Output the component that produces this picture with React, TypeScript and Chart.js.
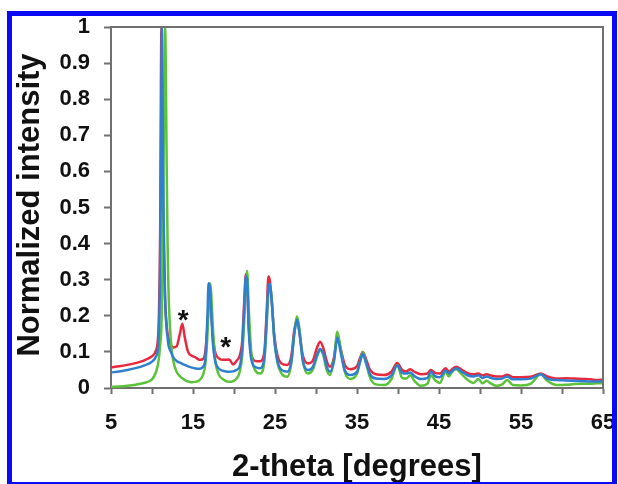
import React, { useEffect, useRef } from "react";
import { Chart, registerables } from "chart.js";

Chart.register(...registerables);

// 2-theta grid (degrees)
const twoTheta = [
  5, 6, 7, 8, 9, 10, 10.5, 10.8, 11.0, 11.15, 11.2, 11.35, 11.4, 11.6, 11.8, 11.9, 12.0, 12.3, 12.6, 13.0,
  13.4, 13.7, 14.0, 14.4, 14.8, 15.3, 15.8, 16.2, 16.5, 16.75, 16.9, 17.05, 17.2, 17.4, 17.7, 18.1, 18.6, 19.0, 19.4, 19.9,
  20.3, 20.7, 21.0, 21.25, 21.45, 21.6, 21.8, 22.1, 22.6, 23.2, 23.7, 24.0, 24.2, 24.35, 24.6, 24.9, 25.3, 25.8, 26.5, 27.0,
  27.35, 27.7, 28.0, 28.4, 29.0, 29.6, 30.1, 30.5, 30.9, 31.3, 31.7, 32.2, 32.6, 33.0, 33.5, 34.2, 35.0, 35.4, 35.7, 36.1,
  36.6, 37.3, 38.3, 39.2, 39.9, 40.5, 41.0, 41.5, 42.0, 42.8, 43.6, 44.0, 44.5, 45.1, 45.8, 46.2, 46.6, 47.1, 47.7, 48.4,
  49.2, 49.8, 50.3, 50.8, 51.3, 52.0, 52.7, 53.3, 54.0, 55.0, 56.2, 57.4, 58.2, 59.4, 60.5, 61.5, 62.5, 63.5, 64.3, 65,
];

const redIntensity = [
  0.057, 0.06, 0.064, 0.069, 0.076, 0.088, 0.105, 0.17, 0.45, 1.0, 0.9, 0.5, 0.42, 0.24, 0.17, 0.15, 0.14, 0.12, 0.112, 0.115,
  0.15, 0.178, 0.14, 0.1, 0.09, 0.085, 0.078, 0.08, 0.1, 0.17, 0.23, 0.245, 0.22, 0.15, 0.1, 0.083, 0.078, 0.078, 0.079, 0.065,
  0.075, 0.09, 0.13, 0.24, 0.316, 0.29, 0.17, 0.095, 0.075, 0.074, 0.1, 0.22, 0.309, 0.3, 0.24, 0.15, 0.09, 0.068, 0.064, 0.09,
  0.16, 0.19, 0.15, 0.09, 0.068, 0.075, 0.11, 0.128, 0.11, 0.075, 0.059, 0.085, 0.142, 0.11, 0.065, 0.052, 0.06, 0.085, 0.1, 0.08,
  0.05, 0.038, 0.036, 0.045, 0.069, 0.05, 0.046, 0.052, 0.045, 0.038, 0.04, 0.05, 0.042, 0.04, 0.055, 0.045, 0.052, 0.059, 0.052, 0.042,
  0.038, 0.04, 0.035, 0.038, 0.035, 0.032, 0.032, 0.037, 0.03, 0.03, 0.031, 0.04, 0.032, 0.026, 0.027, 0.026, 0.025, 0.024, 0.022, 0.023,
];

const blueIntensity = [
  0.043, 0.046, 0.05, 0.055, 0.062, 0.073, 0.088, 0.13, 0.35, 0.85, 1.0, 0.6, 0.5, 0.25, 0.16, 0.14, 0.12, 0.1, 0.085, 0.075,
  0.07, 0.067, 0.064, 0.06, 0.057, 0.054, 0.053, 0.058, 0.08, 0.19, 0.29, 0.28, 0.22, 0.13, 0.075, 0.055, 0.048, 0.046, 0.045, 0.046,
  0.05, 0.06, 0.11, 0.22, 0.31, 0.3, 0.16, 0.08, 0.058, 0.055, 0.085, 0.2, 0.28, 0.288, 0.24, 0.14, 0.075, 0.05, 0.045, 0.075,
  0.15, 0.19, 0.15, 0.075, 0.05, 0.058, 0.09, 0.108, 0.095, 0.06, 0.045, 0.075, 0.14, 0.1, 0.05, 0.036, 0.045, 0.075, 0.095, 0.07,
  0.038, 0.026, 0.025, 0.035, 0.062, 0.042, 0.04, 0.043, 0.033, 0.025, 0.028, 0.045, 0.033, 0.03, 0.048, 0.04, 0.047, 0.055, 0.046, 0.036,
  0.032, 0.035, 0.028, 0.032, 0.028, 0.025, 0.026, 0.032, 0.024, 0.024, 0.026, 0.038, 0.026, 0.022, 0.021, 0.02, 0.019, 0.018, 0.018, 0.019,
];

const greenIntensity = [
  0.003, 0.004, 0.006, 0.009, 0.014, 0.024, 0.045, 0.075, 0.12, 0.17, 0.22, 0.45, 0.6, 1.0, 0.6, 0.4, 0.28, 0.13, 0.075, 0.045,
  0.033, 0.027, 0.022, 0.018, 0.016, 0.017, 0.022, 0.035, 0.065, 0.14, 0.22, 0.29, 0.27, 0.18, 0.08, 0.04, 0.025, 0.019, 0.017, 0.019,
  0.026, 0.045, 0.09, 0.19, 0.29, 0.325, 0.22, 0.1, 0.048, 0.04, 0.075, 0.18, 0.27, 0.288, 0.25, 0.14, 0.07, 0.04, 0.031, 0.07,
  0.15, 0.198, 0.16, 0.075, 0.04, 0.05, 0.085, 0.105, 0.09, 0.05, 0.036, 0.08, 0.156, 0.11, 0.045, 0.025, 0.04, 0.075, 0.1, 0.07,
  0.028, 0.01, 0.008, 0.025, 0.064, 0.028, 0.026, 0.035, 0.02, 0.006, 0.012, 0.035, 0.022, 0.014, 0.045, 0.032, 0.045, 0.052, 0.04, 0.024,
  0.014, 0.025, 0.013, 0.02, 0.013, 0.006, 0.01, 0.022, 0.008, 0.007, 0.012, 0.038, 0.02, 0.008, 0.009, 0.011, 0.012, 0.012, 0.013, 0.013,
];

// x tick labels shown (every other tick)
const xTickLabels = [5, 15, 25, 35, 45, 55, 65];

// asterisk annotations
const asteriskAngles = [13.8, 19.0];
const asteriskLevels = [0.2, 0.125];

const xTitle = "2-theta [degrees]";
const yTitle = "Normalized intensity";

const FONT = '"Liberation Sans", Arial, Helvetica, sans-serif';

const toPoints = (ys: number[]) => twoTheta.map((x, i) => ({ x, y: ys[i] }));

const framePlugin = {
  id: "frame",
  afterDatasetsDraw(chart: any) {
    const { ctx, chartArea } = chart;
    ctx.save();
    ctx.strokeStyle = "#707070";
    ctx.lineWidth = 2;
    ctx.beginPath();
    ctx.moveTo(chartArea.left, chartArea.top);
    ctx.lineTo(chartArea.right, chartArea.top);
    ctx.lineTo(chartArea.right, chartArea.bottom);
    ctx.stroke();
    ctx.restore();
  },
};

const textPlugin = {
  id: "texts",
  afterDraw(chart: any) {
    const { ctx, chartArea, scales } = chart;
    ctx.save();
    ctx.fillStyle = "#111";
    // x title
    ctx.font = `bold 31px ${FONT}`;
    ctx.textAlign = "center";
    ctx.textBaseline = "alphabetic";
    ctx.fillText(xTitle, (chartArea.left + chartArea.right) / 2, 476);
    // y title
    ctx.save();
    ctx.translate(39, 205);
    ctx.rotate(-Math.PI / 2);
    ctx.font = `bold 31px ${FONT}`;
    ctx.textAlign = "center";
    ctx.textBaseline = "alphabetic";
    ctx.fillText(yTitle, 0, 0);
    ctx.restore();
    // asterisks
    ctx.font = `bold 28px ${FONT}`;
    ctx.textAlign = "center";
    ctx.textBaseline = "middle";
    asteriskAngles.forEach((a, i) => {
      const px = scales.x.getPixelForValue(a);
      const py = scales.y.getPixelForValue(asteriskLevels[i]);
      ctx.fillText("*", px, py + 5);
    });
    ctx.restore();
  },
};

export default function App() {
  const ref = useRef<HTMLCanvasElement | null>(null);

  useEffect(() => {
    if (!ref.current) return;
    const chart = new Chart(ref.current, {
      type: "line",
      data: {
        datasets: [
          {
            label: "blue",
            data: toPoints(blueIntensity),
            borderColor: "#2f7fd0",
            borderWidth: 2.5,
            pointRadius: 0,
            cubicInterpolationMode: "monotone",
          },
          {
            label: "green",
            data: toPoints(greenIntensity),
            borderColor: "#5cc23a",
            borderWidth: 2.5,
            pointRadius: 0,
            cubicInterpolationMode: "monotone",
          },
          {
            label: "red",
            data: toPoints(redIntensity),
            borderColor: "#e8283c",
            borderWidth: 2.5,
            pointRadius: 0,
            cubicInterpolationMode: "monotone",
          },
        ],
      },
      options: {
        animation: false,
        responsive: false,
        devicePixelRatio: 1,
        layout: { padding: { left: 0, top: 27, right: 15, bottom: 0 } },
        plugins: { legend: { display: false }, tooltip: { enabled: false } },
        scales: {
          x: {
            type: "linear",
            min: 5,
            max: 65,
            afterFit(scale: any) {
              scale.height = 96;
              scale.paddingLeft = 0;
              scale.paddingRight = 0;
            },
            ticks: {
              stepSize: 5,
              autoSkip: false,
              maxRotation: 0,
              padding: 16,
              color: "#111",
              font: { family: FONT, size: 22, weight: "bold" },
              callback: (v: any) => (xTickLabels.includes(Number(v)) ? String(v) : ""),
            },
            grid: {
              display: true,
              drawOnChartArea: false,
              drawTicks: true,
              tickLength: 6,
              tickColor: "#707070",
              tickWidth: 2,
            },
            border: { display: true, color: "#707070", width: 2 },
          },
          y: {
            type: "linear",
            min: 0,
            max: 1,
            afterFit(scale: any) {
              scale.width = 111;
              scale.paddingTop = 0;
              scale.paddingBottom = 0;
            },
            ticks: {
              stepSize: 0.1,
              padding: 14,
              color: "#111",
              font: { family: FONT, size: 22, weight: "bold" },
              callback: (v: any) => String(Math.round(Number(v) * 10) / 10),
            },
            grid: {
              display: true,
              drawOnChartArea: false,
              drawTicks: true,
              tickLength: 7,
              tickColor: "#707070",
              tickWidth: 2,
            },
            border: { display: true, color: "#707070", width: 2 },
          },
        },
      },
      plugins: [framePlugin, textPlugin],
    } as any);
    return () => chart.destroy();
  }, []);

  return (
    <div style={{ position: "absolute", left: 0, top: 0, width: 618, height: 484, background: "#fff", overflow: "hidden" }}>
      <canvas ref={ref} width={618} height={484} style={{ position: "absolute", left: 0, top: 0, width: 618, height: 484 }} />
      <div
        style={{
          position: "absolute",
          left: 7,
          top: 11,
          width: 610,
          height: 476,
          border: "5px solid #0a0af5",
          boxSizing: "border-box",
          pointerEvents: "none",
        }}
      />
    </div>
  );
}
